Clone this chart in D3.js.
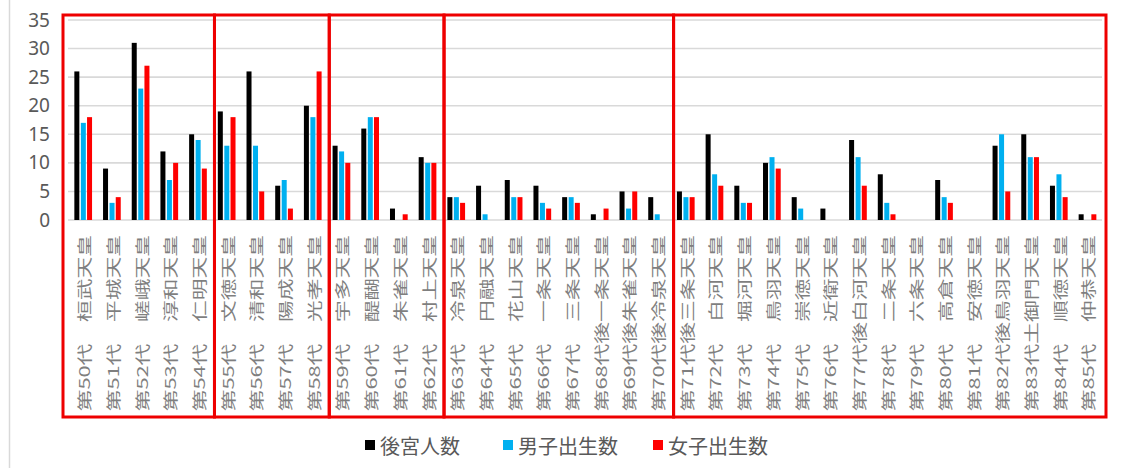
<!DOCTYPE html>
<html>
<head>
<meta charset="utf-8">
<script src="https://cdn.jsdelivr.net/npm/d3@7"></script>
<style>
  html, body { margin: 0; padding: 0; background: #fff; }
  svg { display: block; font-family: "Noto Sans CJK JP", "Noto Sans", sans-serif; }
</style>
</head>
<body>
<svg id="chart" width="1121" height="468"></svg>
<script>
// 代数と天皇名
const reigns = ['第50代', '第51代', '第52代', '第53代', '第54代', '第55代', '第56代', '第57代', '第58代',
  '第59代', '第60代', '第61代', '第62代', '第63代', '第64代', '第65代', '第66代', '第67代', '第68代',
  '第69代', '第70代', '第71代', '第72代', '第73代', '第74代', '第75代', '第76代', '第77代', '第78代',
  '第79代', '第80代', '第81代', '第82代', '第83代', '第84代', '第85代'];
const emperors = ['桓武天皇', '平城天皇', '嵯峨天皇', '淳和天皇', '仁明天皇', '文徳天皇', '清和天皇', '陽成天皇', '光孝天皇',
  '宇多天皇', '醍醐天皇', '朱雀天皇', '村上天皇', '冷泉天皇', '円融天皇', '花山天皇', '一条天皇', '三条天皇', '後一条天皇',
  '後朱雀天皇', '後冷泉天皇', '後三条天皇', '白河天皇', '堀河天皇', '鳥羽天皇', '崇徳天皇', '近衛天皇', '後白河天皇', '二条天皇',
  '六条天皇', '高倉天皇', '安徳天皇', '後鳥羽天皇', '土御門天皇', '順徳天皇', '仲恭天皇'];

const seriesNames = ['後宮人数', '男子出生数', '女子出生数'];
const seriesColors = ['#000000', '#00b0f0', '#ff0000'];

const kokyu = [26, 9, 31, 12, 15, 19, 26, 6, 20, 13, 16, 2, 11, 4, 6, 7, 6, 4, 1, 5, 4, 5, 15, 6, 10, 4, 2, 14, 8, 0, 7, 0, 13, 15, 6, 1];
const sons = [17, 3, 23, 7, 14, 13, 13, 7, 18, 12, 18, 0, 10, 4, 1, 4, 3, 4, 0, 2, 1, 4, 8, 3, 11, 2, 0, 11, 3, 0, 4, 0, 15, 11, 8, 0];
const daughters = [18, 4, 27, 10, 9, 18, 5, 2, 26, 10, 18, 1, 10, 3, 0, 4, 2, 3, 2, 5, 0, 4, 6, 3, 9, 0, 0, 6, 1, 0, 3, 0, 5, 11, 4, 1];

// 赤枠のまとまり（代の数）
const groupSizes = [5, 4, 4, 8, 15];

const yTicks = [0, 5, 10, 15, 20, 25, 30, 35];

(function () {
  'use strict';

  const svg = d3.select('#chart');
  const labels = reigns.map(function (r, i) {
    const name = emperors[i];
    // 「後〜」「土御門」は長いので間を詰める
    return name.length > 4 ? r + name : r + '\u3000' + name;
  });
  const series = [kokyu, sons, daughters];

  const x = d3.scaleBand().domain(labels).range([69, 1102]).paddingInner(0).paddingOuter(0);
  const y = d3.scaleLinear().domain([0, 35]).range([220, 20]);
  const bw = x.bandwidth();

  // 左の枠線
  svg.append('line')
    .attr('x1', 9.5).attr('x2', 9.5).attr('y1', 0).attr('y2', 468)
    .attr('stroke', '#d9d9d9').attr('stroke-width', 1.5);

  // grid
  svg.append('g').selectAll('line')
    .data(yTicks)
    .join('line')
    .attr('x1', 68).attr('x2', 1102)
    .attr('y1', function (d) { return y(d); })
    .attr('y2', function (d) { return y(d); })
    .attr('stroke', '#d9d9d9')
    .attr('stroke-width', 1.6);

  const yAxis = d3.axisLeft(y).tickValues(yTicks).tickSize(0).tickPadding(0);
  const ya = svg.append('g').attr('transform', 'translate(50,0)').call(yAxis);
  ya.select('.domain').remove();
  ya.selectAll('text')
    .attr('font-size', '19px')
    .attr('fill', '#595959')
    .attr('font-family', '"Noto Sans", sans-serif');

  // bars
  const barW = 5;
  const offsets = [-6.5, 0, 6.2];
  series.forEach(function (vals, s) {
    svg.append('g').selectAll('rect')
      .data(vals.map(function (v, i) { return { v: v, k: labels[i] }; }).filter(function (d) { return d.v > 0; }))
      .join('rect')
      .attr('x', function (d) { return x(d.k) + bw / 2 + offsets[s] - barW / 2; })
      .attr('y', function (d) { return y(d.v); })
      .attr('width', barW)
      .attr('height', function (d) { return y(0) - y(d.v); })
      .attr('fill', seriesColors[s]);
  });

  // category labels (rotated)
  svg.append('g').selectAll('text')
    .data(labels)
    .join('text')
    .attr('transform', function (d) {
      return 'translate(' + (x(d) + bw / 2) + ',235) rotate(-90) scale(1.45,1)';
    })
    .attr('text-anchor', 'end')
    .attr('dominant-baseline', 'central')
    .attr('font-size', '15px')
    .attr('fill', '#7f7f7f')
    .text(function (d) { return d; });

  // 赤枠
  let start = 0;
  groupSizes.forEach(function (n, gi) {
    const first = labels[start];
    const last = labels[start + n - 1];
    let x0 = x(first) + 2;
    let x1 = x(last) + bw + 2;
    if (gi === 0) x0 = x(first) - 6;
    if (gi === groupSizes.length - 1) x1 = x(last) + bw + 4;
    svg.append('rect')
      .attr('x', x0).attr('y', 15)
      .attr('width', x1 - x0).attr('height', 402)
      .attr('fill', 'none')
      .attr('stroke', '#ee0000')
      .attr('stroke-width', 3);
    start += n;
  });

  // legend
  const legendX = [365, 503, 653];
  const legend = svg.append('g').selectAll('g')
    .data(seriesNames)
    .join('g')
    .attr('transform', function (d, i) { return 'translate(' + legendX[i] + ',445)'; });
  legend.append('rect')
    .attr('x', 0).attr('y', -5)
    .attr('width', 10).attr('height', 10)
    .attr('fill', function (d, i) { return seriesColors[i]; });
  legend.append('text')
    .attr('x', 15)
    .attr('dominant-baseline', 'central')
    .attr('font-size', '20px')
    .attr('fill', '#595959')
    .text(function (d) { return d; });
})();
</script>
</body>
</html>
